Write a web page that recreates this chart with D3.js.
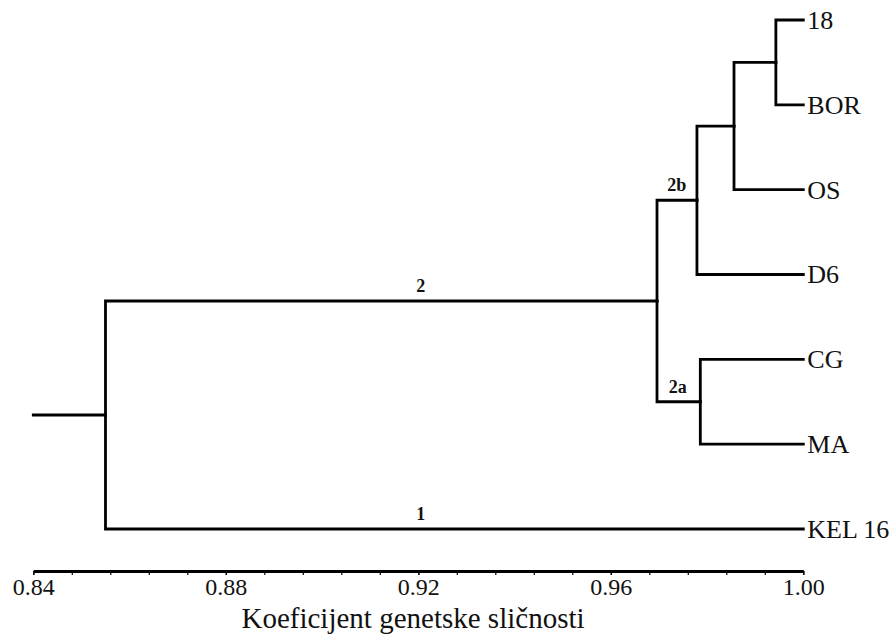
<!DOCTYPE html>
<html>
<head>
<meta charset="utf-8">
<script src="https://cdn.jsdelivr.net/npm/d3@7"></script>
<style>
  body { margin: 0; background: #fff; }
  text { font-family: "Liberation Serif", "DejaVu Serif", serif; fill: #111; }
</style>
</head>
<body>
<svg id="chart" width="892" height="642"></svg>
<script>
// leaves, top to bottom
var leafNames = ["18", "BOR", "OS", "D6", "CG", "MA", "KEL 16"];
// internal merges: name, similarity at which the children join, children
var mergeNames = ["root", "2", "2b", "c3", "c4", "2a"];
var mergeSimilarity = [0.855, 0.9696, 0.9779, 0.9856, 0.9943, 0.9786];
var mergeChildren = [["2", "KEL 16"], ["2b", "2a"], ["c3", "D6"], ["c4", "OS"], ["18", "BOR"], ["CG", "MA"]];
// cluster labels written above the branch leading to a node
var branchLabelNode = ["2", "KEL 16", "2b", "2a"];
var branchLabelText = ["2", "1", "2b", "2a"];
var branchLabelAt = [0.9205, 0.9205, 0.9737, 0.9739];
var tickLabels = [0.84, 0.88, 0.92, 0.96, 1.00];
var minorTicks = d3.range(0, 21).map(function(i) { return 0.84 + i * 0.008; });

var svg = d3.select("#chart");
var x = d3.scaleLinear().domain([0.84, 1.00]).range([33.3, 803.3]);
var y = d3.scalePoint().domain(leafNames).range([20, 529]);

// build the tree
var byName = {};
mergeNames.forEach(function(n, i) {
	byName[n] = { name: n, sim: mergeSimilarity[i], kids: mergeChildren[i] };
});
leafNames.forEach(function(n) { byName[n] = { name: n, sim: 1.00, kids: null }; });

var root = d3.hierarchy(byName["root"], function(d) {
	return d.kids ? d.kids.map(function(k) { return byName[k]; }) : null;
});
root.eachAfter(function(n) {
	n.px = x(n.data.sim);
	n.py = n.children ? d3.mean(n.children, function(c) { return c.py; }) : y(n.data.name);
});

var g = svg.append("g")
	.attr("fill", "none")
	.attr("stroke", "#000")
	.attr("stroke-width", 2.8)
	.attr("stroke-linecap", "square");

// root stem
g.append("path").attr("d", "M" + x(0.84) + "," + root.py + "H" + root.px);

// elbows
g.selectAll(".link")
	.data(root.links())
	.enter().append("path")
	.attr("class", "link")
	.attr("d", function(d) {
		return "M" + d.source.px + "," + d.source.py + "V" + d.target.py + "H" + d.target.px;
	});

// leaf names
svg.selectAll(".leaf")
	.data(root.leaves())
	.enter().append("text")
	.attr("class", "leaf")
	.attr("x", function(d) { return d.px + 4; })
	.attr("y", function(d) { return d.py; })
	.attr("dy", "0.34em")
	.attr("font-size", 26)
	.text(function(d) { return d.data.name; });

// cluster labels
var nodeByName = {};
root.each(function(n) { nodeByName[n.data.name] = n; });
svg.selectAll(".clabel")
	.data(branchLabelNode)
	.enter().append("text")
	.attr("class", "clabel")
	.attr("x", function(d, i) { return x(branchLabelAt[i]); })
	.attr("y", function(d) { return nodeByName[d].py - 9; })
	.attr("text-anchor", "middle")
	.attr("font-size", 18)
	.attr("font-weight", "bold")
	.text(function(d, i) { return branchLabelText[i]; });

// axis
var axisY = 571;
svg.append("g")
	.attr("transform", "translate(0," + axisY + ")")
	.call(d3.axisBottom(x).tickValues(minorTicks).tickSize(4).tickSizeOuter(0).tickFormat(""))
	.call(function(a) {
		a.select(".domain").attr("stroke-width", 3);
		a.selectAll(".tick line").attr("stroke-width", 1.2);
	});

svg.append("g")
	.attr("transform", "translate(0," + axisY + ")")
	.attr("font-family", "Liberation Serif")
	.attr("font-size", 24)
	.call(d3.axisBottom(x).tickValues(tickLabels).tickSize(4).tickPadding(3).tickFormat(d3.format(".2f")))
	.call(function(a) {
		a.select(".domain").remove();
		a.selectAll(".tick line").attr("stroke-width", 1.2);
		a.selectAll(".tick text")
			.style("font-family", "'Liberation Serif', serif")
			.style("font-size", "24px")
			.attr("fill", "#111");
	});

svg.append("text")
	.attr("x", 413)
	.attr("y", 628)
	.attr("text-anchor", "middle")
	.attr("font-size", 29)
	.text("Koeficijent genetske sličnosti");
</script>
</body>
</html>
